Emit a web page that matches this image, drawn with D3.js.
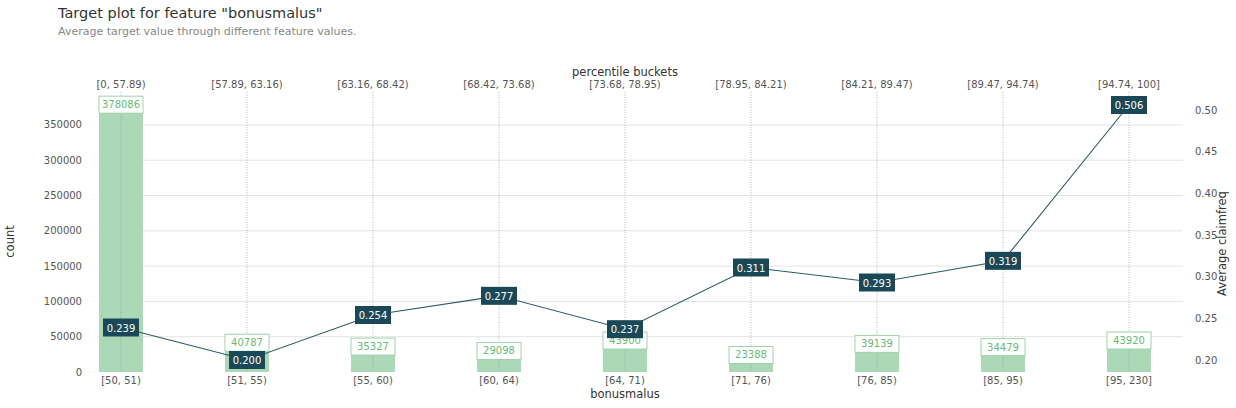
<!DOCTYPE html>
<html><head><meta charset="utf-8">
<script src="https://cdn.jsdelivr.net/npm/d3@7"></script>
<style>body{margin:0;background:#fff;font-family:"DejaVu Sans",sans-serif}</style>
</head><body><svg id="c" width="1236" height="408"></svg>
<script>
const buckets = ["[50, 51)","[51, 55)","[55, 60)","[60, 64)","[64, 71)","[71, 76)","[76, 85)","[85, 95)","[95, 230]"];
const percentiles = ["[0, 57.89)","[57.89, 63.16)","[63.16, 68.42)","[68.42, 73.68)","[73.68, 78.95)","[78.95, 84.21)","[84.21, 89.47)","[89.47, 94.74)","[94.74, 100]"];
const counts = [378086, 40787, 35327, 29098, 43900, 23388, 39139, 34479, 43920];
const claimfreq = [0.239, 0.200, 0.254, 0.277, 0.237, 0.311, 0.293, 0.319, 0.506];
const countTicks = [0,50000,100000,150000,200000,250000,300000,350000];
const freqTicks = [0.20,0.25,0.30,0.35,0.40,0.45,0.50];

const svg = d3.select("#c");
const T = 95, B = 372;
const x = d3.scalePoint().domain(buckets).range([121, 1129]);
const yL = d3.scaleLinear().domain([0, 392500]).range([B, T]);
const yR = d3.scaleLinear().domain([0.2 - 12*0.3/250, 0.2 + 265*0.3/250]).range([B, T]);

svg.append("text").attr("x",58).attr("y",18).attr("font-size",14.5).attr("fill","#333").text('Target plot for feature "bonusmalus"');
svg.append("text").attr("x",58).attr("y",35).attr("font-size",11).attr("fill","#888").text("Average target value through different feature values.");

svg.selectAll(".g").data(countTicks.slice(1)).join("line")
  .attr("x1",98).attr("x2",1183).attr("y1",d=>yL(d)).attr("y2",d=>yL(d))
  .attr("stroke","#e4e4e4").attr("stroke-width",1);

svg.selectAll(".lt").data(countTicks).join("text")
  .attr("x",82).attr("y",d=>yL(d)+3.5).attr("text-anchor","end").attr("font-size",10).attr("fill","#555").text(d=>d);
svg.append("text").attr("transform","translate(14,"+((T+B)/2+8)+") rotate(-90)").attr("text-anchor","middle").attr("font-size",11.5).attr("fill","#333").text("count");
svg.selectAll(".rt").data(freqTicks).join("text")
  .attr("x",1195).attr("y",d=>yR(d)+3.5).attr("font-size",10).attr("fill","#555").text(d=>d.toFixed(2));
svg.append("text").attr("transform","translate(1226,"+((T+B)/2+10)+") rotate(-90)").attr("text-anchor","middle").attr("font-size",11.5).attr("fill","#333").text("Average claimfreq");

svg.selectAll(".bl").data(buckets).join("text")
  .attr("x",d=>x(d)).attr("y",384).attr("text-anchor","middle").attr("font-size",10).attr("fill","#555").text(d=>d);
svg.append("text").attr("x",625).attr("y",398).attr("text-anchor","middle").attr("font-size",11.5).attr("fill","#333").text("bonusmalus");
svg.selectAll(".tl").data(percentiles).join("text")
  .attr("x",(d,i)=>x(buckets[i])).attr("y",88).attr("text-anchor","middle").attr("font-size",10).attr("fill","#555").text(d=>d);
svg.append("text").attr("x",625).attr("y",76).attr("text-anchor","middle").attr("font-size",11.5).attr("fill","#333").text("percentile buckets");

const bw = 44;
svg.selectAll(".bar").data(counts).join("rect")
  .attr("x",(d,i)=>x(buckets[i])-bw/2).attr("width",bw)
  .attr("y",d=>yL(d)).attr("height",d=>B-yL(d)).attr("fill","#abd9b7");
svg.selectAll(".v").data(buckets).join("line")
  .attr("x1",d=>x(d)).attr("x2",d=>x(d)).attr("y1",92).attr("y2",B)
  .attr("stroke","#888").attr("stroke-dasharray","1,1.5").attr("stroke-width",0.6);
const cg = svg.selectAll(".cl").data(counts).join("g")
  .attr("transform",(d,i)=>`translate(${x(buckets[i])},${yL(d)})`);
cg.append("rect").attr("x",-22).attr("y",-9).attr("width",44).attr("height",17).attr("fill","#fff").attr("stroke","#9fd3a9").attr("stroke-width",1);
cg.append("text").attr("y",3).attr("text-anchor","middle").attr("font-size",10).attr("fill","#66bb77").text(d=>d);

svg.append("path").datum(claimfreq)
  .attr("d",d3.line().x((d,i)=>x(buckets[i])).y(d=>yR(d)))
  .attr("fill","none").attr("stroke","#2b5a68").attr("stroke-width",1.1);
const lg = svg.selectAll(".ll").data(claimfreq).join("g")
  .attr("transform",(d,i)=>`translate(${x(buckets[i])},${yR(d)})`);
lg.append("rect").attr("x",-18).attr("y",-9).attr("width",36).attr("height",18).attr("fill","#1b4856");
lg.append("text").attr("y",4).attr("text-anchor","middle").attr("font-size",10).attr("fill","#fff").text(d=>d.toFixed(3));
</script></body></html>
